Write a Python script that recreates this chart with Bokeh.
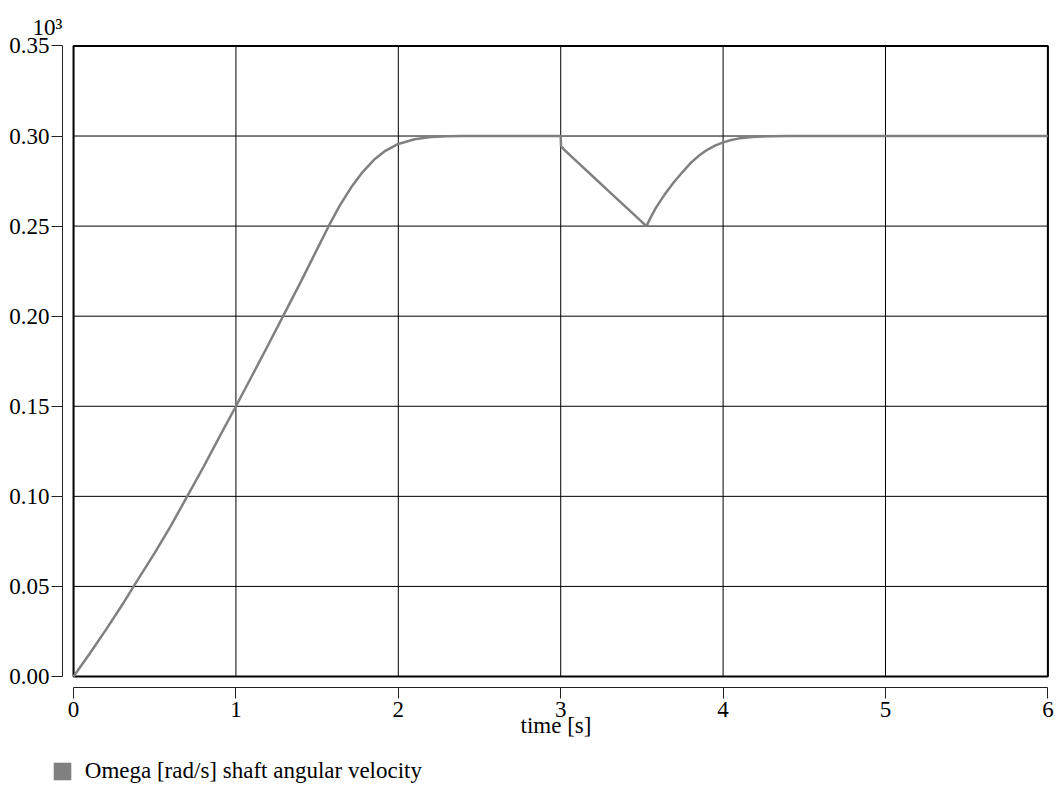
import numpy as np
from bokeh.plotting import figure
from bokeh.layouts import column
from bokeh.models import Range1d, FixedTicker, Legend, LegendItem, Title
from bokeh.embed import file_html
from bokeh.resources import INLINE

# ---- data ----
time_s = [0.0, 0.1, 0.2, 0.3, 0.37, 0.5, 0.6, 0.7, 0.8, 0.9, 1.0, 1.1, 1.2, 1.3,
          1.4, 1.5, 1.57, 1.64, 1.71, 1.78, 1.85, 1.92, 2.0, 2.1, 2.2, 2.3, 2.4,
          2.6, 3.0, 3.002, 3.02, 3.1, 3.2, 3.3, 3.4, 3.5, 3.528, 3.555, 3.585,
          3.616, 3.65, 3.698, 3.75, 3.8, 3.85, 3.9, 3.95, 4.0, 4.05, 4.1, 4.2,
          4.3, 4.4, 5.0, 6.0]
omega = [0.0, 0.0128, 0.0260, 0.0398, 0.050, 0.0686, 0.0838, 0.100, 0.1163,
         0.1333, 0.150, 0.1671, 0.1843, 0.2017, 0.2192, 0.2372, 0.2498, 0.2615,
         0.2715, 0.2800, 0.2868, 0.2918, 0.2956, 0.2982, 0.2994, 0.2999, 0.3000,
         0.3000, 0.3000, 0.2945, 0.2925, 0.2858, 0.2774, 0.2690, 0.2607, 0.2523,
         0.2500, 0.2550, 0.2600, 0.2643, 0.2688, 0.2745, 0.2800, 0.2850, 0.2890,
         0.2922, 0.2947, 0.2965, 0.2978, 0.2987, 0.2996, 0.2999, 0.3000, 0.3000,
         0.3000]

x_ticks = [0, 1, 2, 3, 4, 5, 6]
x_tick_labels = ["0", "1", "2", "3", "4", "5", "6"]
y_ticks = [0.0, 0.05, 0.1, 0.15, 0.2, 0.25, 0.3, 0.35]
y_tick_labels = ["0.00", "0.05", "0.10", "0.15", "0.20", "0.25", "0.30", "0.35"]
x_title = "time [s]"
y_multiplier = "10\u00b3"
series_label = "Omega [rad/s] shaft angular velocity"

FONT = "Liberation Serif"
FS = "23px"
GRAY = "#808080"

x_start, x_end = -0.068, 6.01
y_start, y_end = -0.0061, 0.3508

p = figure(width=1060, height=757, output_backend="svg", toolbar_location=None,
           x_range=Range1d(x_start, x_end), y_range=Range1d(y_start, y_end),
           min_border_left=62, min_border_right=11, min_border_top=44,
           min_border_bottom=70)
p.outline_line_color = None
p.xgrid.visible = False
p.ygrid.visible = False
p.background_fill_color = "white"

for ax, ticks, labels in ((p.xaxis[0], x_ticks, x_tick_labels),
                          (p.yaxis[0], y_ticks, y_tick_labels)):
    ax.bounds = (ticks[0], ticks[-1])
    ax.ticker = FixedTicker(ticks=ticks)
    ax.major_label_overrides = {t: l for t, l in zip(ticks, labels)}
    ax.axis_line_color = "#222222"
    ax.axis_line_width = 1
    ax.major_tick_line_color = "#222222"
    ax.major_tick_out = 11
    ax.major_tick_in = 0
    ax.minor_tick_line_color = None
    ax.major_label_text_font = FONT
    ax.major_label_text_font_size = FS
    ax.major_label_text_color = "black"

p.yaxis[0].major_label_standoff = 2
p.xaxis[0].major_label_standoff = 3
p.xaxis[0].axis_label = x_title
p.xaxis[0].axis_label_text_font = FONT
p.xaxis[0].axis_label_text_font_size = FS
p.xaxis[0].axis_label_text_font_style = "normal"
p.xaxis[0].axis_label_text_color = "black"
p.xaxis[0].axis_label_standoff = -7

# grid lines (at the tick positions)
n_x, n_y = len(x_ticks), len(y_ticks)
p.segment(x0=x_ticks, y0=[y_ticks[0]] * n_x, x1=x_ticks, y1=[y_ticks[-1]] * n_x,
          line_color="black", line_width=1)
p.segment(x0=[x_ticks[0]] * n_y, y0=y_ticks, x1=[x_ticks[-1]] * n_y, y1=y_ticks,
          line_color="black", line_width=1)
# plot box
p.quad(left=[x_ticks[0]], right=[x_ticks[-1]], bottom=[y_ticks[0]], top=[y_ticks[-1]],
       fill_color=None, line_color="black", line_width=2)

# series
p.line(time_s, omega, line_color=GRAY, line_width=2.5)

# y multiplier 10^3 above the y axis
p.add_layout(Title(text=y_multiplier, align="left", offset=-30, standoff=9,
                   text_font=FONT, text_font_size=FS, text_font_style="normal",
                   text_color="black"), "above")

# legend strip under the chart
p2 = figure(width=1060, height=30, output_backend="svg", toolbar_location=None,
            x_range=Range1d(0, 1), y_range=Range1d(0, 1),
            x_axis_location=None, y_axis_location=None,
            min_border=0, min_border_left=0, min_border_right=0,
            min_border_top=0, min_border_bottom=0)
p2.outline_line_color = None
p2.xgrid.visible = False
p2.ygrid.visible = False

legend_x = 0
if "frame_align" in p2.properties():
    p.frame_align = False
    p2.frame_align = False
    legend_x = 50.8

sq = p2.quad(left=[np.nan], right=[np.nan], bottom=[np.nan], top=[np.nan],
             fill_color=GRAY, line_color=None)
legend = Legend(items=[LegendItem(label=series_label, renderers=[sq])],
                location=(legend_x, 3.5), glyph_width=22, glyph_height=22,
                label_height=22, label_standoff=12, label_text_font=FONT,
                label_text_font_size=FS, label_text_color="black",
                padding=0, margin=0, spacing=0, border_line_color=None,
                background_fill_alpha=0)
p2.add_layout(legend)

layout = column(p, p2, spacing=0)
open("out.html", "w").write(file_html(layout, INLINE))
